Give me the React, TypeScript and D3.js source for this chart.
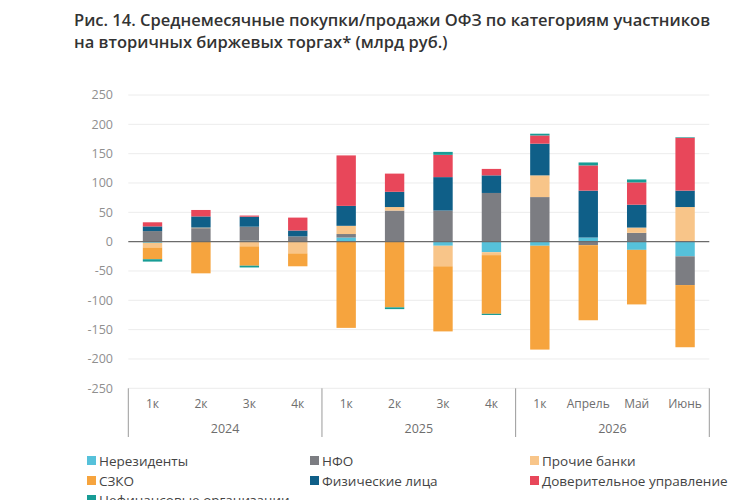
import React from "react";
import * as d3 from "d3";

// Categories along the x axis (quarters / months), grouped by year
const categories = ["1к", "2к", "3к", "4к", "1к", "2к", "3к", "4к", "1к", "Апрель", "Май", "Июнь"];
const years = ["2024", "2025", "2026"];
const yearSpans = [4, 4, 4];

// Series, in stacking order (bn rubles)
const seriesNames = [
  "Нерезиденты",
  "НФО",
  "Прочие банки",
  "СЗКО",
  "Физические лица",
  "Доверительное управление",
  "Нефинансовые организации",
];
const nonResidents = [-2, 0, 1.5, 0, 7, 0, -7, -18, -7, 7, -14, -25];
const nfo = [18, 23, 24, 9, 6, 53, 53, 83, 76, -6, 15, -49];
const otherBanks = [-8, 1, -8, -20, 14, 6, -35, -5, 37, 0, 9, 59];
const szko = [-20, -54, -33, -22, -147, -112, -111, -100, -177, -128, -93, -106];
const individuals = [8, 19, 17, 10, 34, 26, 57, 30, 54, 80, 39, 28];
const trustMgmt = [7, 11, 2, 22, 86, 31, 38, 11, 14, 43, 38, 90];
const nonFinancial = [-4, 0, -3, 0, 0, -3, 5, -2, 3, 5, 5, 1];

const yTicks = [250, 200, 150, 100, 50, 0, -50, -100, -150, -200, -250];

const colors = ["#56c1da", "#7c7d82", "#f8c589", "#f6a43e", "#0f5f88", "#e8475a", "#179c95"];

const W = 750;
const H = 500;
const left = 128.3;
const right = 709.3;
const top = 95;
const bottom = 388.3;

export default function App() {
  const seriesValues = [nonResidents, nfo, otherBanks, szko, individuals, trustMgmt, nonFinancial];
  const rows = categories.map((_, i) => {
    const r: Record<string, number> = {};
    seriesNames.forEach((s, k) => (r[s] = seriesValues[k][i]));
    return r;
  });
  const stacked = d3.stack<Record<string, number>>().keys(seriesNames).offset(d3.stackOffsetDiverging)(rows);

  const idx = categories.map((_, i) => String(i));
  const x = d3.scaleBand<string>().domain(idx).range([left, right]).paddingInner(0.6).paddingOuter(0.3);
  const y = d3.scaleLinear().domain([-250, 250]).range([bottom, top]);
  const step = x.step();
  const outer = (right - left - step * categories.length) / 2;

  const font = "'Open Sans', 'DejaVu Sans', sans-serif";

  // year group boundaries
  const bounds: number[] = [left];
  let acc = 0;
  yearSpans.forEach((n) => {
    acc += n;
    bounds.push(left + outer + acc * step + (acc === categories.length ? outer : 0));
  });

  const legendCols = [87, 310, 530];
  const legendRows = [461, 481, 500];

  return (
    <svg
      width={W}
      height={H}
      style={{ position: "absolute", left: 0, top: 0, background: "#fff" }}
      fontFamily={font}
    >
      <text x={74} y={26} fontSize={16.5} fontWeight={600} fill="#333">
        Рис. 14. Среднемесячные покупки/продажи ОФЗ по категориям участников
      </text>
      <text x={74} y={48} fontSize={16.5} fontWeight={600} fill="#333">
        на вторичных биржевых торгах* (млрд руб.)
      </text>

      {/* grid and y labels */}
      {yTicks.map((t) => (
        <g key={t}>
          {t !== 0 && (
            <line x1={left} x2={right} y1={y(t)} y2={y(t)} stroke="#ececec" strokeWidth={1} />
          )}
          <text x={113} y={y(t)} dy="0.35em" textAnchor="end" fontSize={12.5} fill="#8f8f8f">
            {t}
          </text>
        </g>
      ))}

      {/* bars */}
      {stacked.map((layer, k) => (
        <g key={layer.key} fill={colors[k]}>
          {layer.map((d, i) => {
            const y0 = y(d[0]);
            const y1 = y(d[1]);
            const h = Math.abs(y0 - y1);
            if (h < 0.01) return null;
            return (
              <rect key={i} x={x(String(i))!} width={x.bandwidth()} y={Math.min(y0, y1)} height={h} />
            );
          })}
        </g>
      ))}

      {/* zero line */}
      <line x1={left} x2={right} y1={y(0)} y2={y(0)} stroke="#6b6b6b" strokeWidth={1.3} />

      {/* category axis */}
      {bounds.map((b, i) => (
        <line key={i} x1={b} x2={b} y1={bottom} y2={437} stroke="#9a9a9a" strokeWidth={1} />
      ))}
      {categories.map((c, i) => (
        <text
          key={i}
          x={x(String(i))! + x.bandwidth() / 2}
          y={408}
          textAnchor="middle"
          fontSize={12}
          fill="#6e6e6e"
        >
          {c}
        </text>
      ))}
      {years.map((yr, i) => (
        <text
          key={yr}
          x={(bounds[i] + bounds[i + 1]) / 2}
          y={433}
          textAnchor="middle"
          fontSize={12.5}
          fill="#6e6e6e"
        >
          {yr}
        </text>
      ))}

      {/* legend */}
      {seriesNames.map((s, k) => {
        const cx = legendCols[k % 3];
        const cy = legendRows[Math.floor(k / 3)];
        return (
          <g key={s}>
            <rect x={cx} y={cy - 5} width={9} height={9} fill={colors[k]} />
            <text x={cx + 12} y={cy} dy="0.35em" fontSize={13.5} fill="#444">
              {s}
            </text>
          </g>
        );
      })}
    </svg>
  );
}
